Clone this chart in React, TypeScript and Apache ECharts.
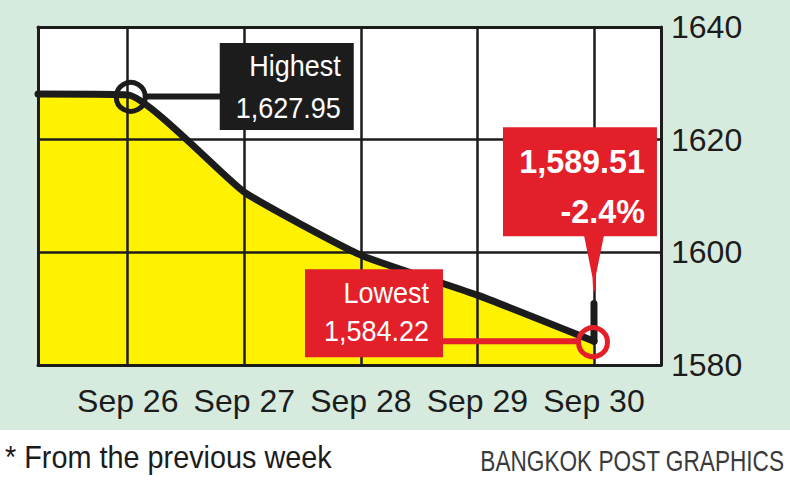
import React, { useEffect, useRef } from "react";
import * as echarts from "echarts";

// SET index, week of Sep 26 - Sep 30
const DAYS = ["Sep 26", "Sep 27", "Sep 28", "Sep 29", "Sep 30"];
const DAY_POS = [0, 1, 2, 3, 4];
const INDEX_LINE = [1627.95, 1610.7, 1599.5, 1592.4, 1584.22];
const PREV_WEEK_CLOSE = 1628.1;
const PREV_POS = -0.77;
const X_MIN = -0.77;
const X_MAX = 4.575;
const Y_TICKS = [1580, 1600, 1620, 1640];

const HIGHEST = 1627.95;
const HIGHEST_DAY = 0;
const LOWEST = 1584.22;
const LOWEST_DAY = 4;
const LAST_CLOSE = 1589.51;
const LAST_DAY = 4;
const CHANGE = "-2.4%";

const FONT = '"Liberation Sans", Arial, sans-serif';
const RED = "#e3202a";
const INK = "#1c1c1c";
const YELLOW = "#fff200";

const fmt = (v: number) =>
  v.toLocaleString("en-US", { minimumFractionDigits: 2, maximumFractionDigits: 2 });

export default function App() {
  const ref = useRef<HTMLDivElement>(null);

  useEffect(() => {
    document.body.style.margin = "0";
    if (!ref.current) return;
    const chart = echarts.init(ref.current, null, { renderer: "svg" });

    const pts: [number, number][] = [[PREV_POS, PREV_WEEK_CLOSE]].concat(
      DAY_POS.map((x, i) => [x, INDEX_LINE[i]] as [number, number])
    ) as [number, number][];

    chart.setOption({
      animation: false,
      backgroundColor: "transparent",
      grid: {
        left: 38,
        right: 129,
        top: 27,
        bottom: 119,
        show: true,
        backgroundColor: "#ffffff",
        borderWidth: 0,
        z: 0,
      },
      xAxis: [
        {
          type: "value",
          min: X_MIN,
          max: X_MAX,
          z: 2,
          splitLine: { show: false },
          axisLine: { show: true, onZero: false, lineStyle: { color: INK, width: 3 } },
          axisTick: {
            show: true,
            inside: true,
            length: 338,
            customValues: DAY_POS,
            lineStyle: { color: INK, width: 2.5 },
          },
          axisLabel: {
            customValues: DAY_POS,
            formatter: (v: number) => DAYS[Math.round(v)] ?? "",
            fontFamily: FONT,
            fontSize: 32,
            color: INK,
            margin: 20,
          },
        },
        {
          type: "value",
          position: "top",
          min: X_MIN,
          max: X_MAX,
          z: 2,
          splitLine: { show: false },
          axisLine: { show: true, onZero: false, lineStyle: { color: INK, width: 3 } },
          axisTick: { show: false },
          axisLabel: { show: false },
        },
      ],
      yAxis: [
        {
          type: "value",
          position: "right",
          min: 1580,
          max: 1640,
          interval: 20,
          z: 2,
          axisLine: { show: true, onZero: false, lineStyle: { color: INK, width: 3 } },
          axisTick: { show: false },
          splitLine: { show: true, lineStyle: { color: INK, width: 2.5 } },
          axisLabel: {
            fontFamily: FONT,
            fontSize: 32,
            color: INK,
            margin: 10,
            formatter: (v: number) => (Y_TICKS.includes(v) ? String(v) : ""),
          },
        },
        {
          type: "value",
          position: "left",
          min: 1580,
          max: 1640,
          z: 2,
          axisLine: { show: true, onZero: false, lineStyle: { color: INK, width: 3 } },
          axisTick: { show: false },
          splitLine: { show: false },
          axisLabel: { show: false },
        },
      ],
      series: [
        {
          type: "line",
          data: pts,
          z: 1,
          smooth: 0.15,
          symbol: "none",
          lineStyle: { width: 0 },
          areaStyle: { color: YELLOW, opacity: 1, origin: "start" },
        },
        {
          type: "line",
          data: pts,
          z: 3,
          smooth: 0.15,
          symbol: "none",
          lineStyle: { width: 7, color: INK, cap: "round", join: "round" },
        },
      ],
    });

    const [hx, hy] = chart.convertToPixel({ gridIndex: 0 }, [HIGHEST_DAY, HIGHEST]) as number[];
    const [lx, ly] = chart.convertToPixel({ gridIndex: 0 }, [LOWEST_DAY, LOWEST]) as number[];
    const [cx, cy] = chart.convertToPixel({ gridIndex: 0 }, [LAST_DAY, LAST_CLOSE]) as number[];

    // callout boxes
    const hiBox = { x: hx + 92, y: hy - 52, w: 134, h: 87 };
    const loBox = { x: lx - 289, y: ly - 72, w: 138, h: 88 };
    const clBox = { x: lx - 91, y: ly - 214, w: 154, h: 109 };
    const tipY = cy - 20;

    const txt = (
      x: number,
      y: number,
      text: string,
      size: number,
      sx: number,
      opts: { bold?: boolean; fill?: string; align?: string } = {}
    ) => ({
      type: "text",
      z: 20,
      x,
      y,
      scaleX: sx,
      style: {
        text,
        fill: opts.fill ?? "#ffffff",
        font: `${opts.bold ? "bold " : ""}${size}px ${FONT}`,
        align: opts.align ?? "right",
        verticalAlign: "middle",
      },
    });

    chart.setOption({
      graphic: [
        // highest marker
        {
          type: "line",
          z: 10,
          shape: { x1: hx + 17, y1: hy + 1.5, x2: hiBox.x + 2, y2: hy + 1.5 },
          style: { stroke: INK, lineWidth: 6 },
        },
        {
          type: "circle",
          z: 11,
          shape: { cx: hx + 3, cy: hy + 2, r: 14.5 },
          style: { fill: "none", stroke: INK, lineWidth: 5 },
        },
        {
          type: "rect",
          z: 12,
          shape: { x: hiBox.x, y: hiBox.y, width: hiBox.w, height: hiBox.h },
          style: { fill: INK },
        },
        txt(hiBox.x + hiBox.w - 13, hiBox.y + 23, "Highest", 30, 0.9),
        txt(hiBox.x + hiBox.w - 13, hiBox.y + 65, fmt(HIGHEST), 30, 0.9),

        // last close bar and callout
        {
          type: "line",
          z: 10,
          shape: { x1: cx, y1: ly, x2: cx, y2: cy - 8 },
          style: { stroke: INK, lineWidth: 7, lineCap: "round" },
        },
        {
          type: "polygon",
          z: 12,
          shape: {
            points: [
              [cx - 10, clBox.y + clBox.h - 1],
              [cx + 10, clBox.y + clBox.h - 1],
              [cx + 1.5, tipY - 14],
              [cx + 0.8, tipY],
              [cx - 0.8, tipY],
              [cx - 1.5, tipY - 14],
            ],
          },
          style: { fill: RED },
        },
        {
          type: "rect",
          z: 12,
          shape: { x: clBox.x, y: clBox.y, width: clBox.w, height: clBox.h },
          style: { fill: RED },
        },
        txt(clBox.x + clBox.w - 12, clBox.y + 34, fmt(LAST_CLOSE), 34, 0.95, { bold: true }),
        txt(clBox.x + clBox.w - 12, clBox.y + 84, CHANGE, 34, 0.95, { bold: true }),

        // lowest marker
        {
          type: "line",
          z: 10,
          shape: { x1: loBox.x + loBox.w - 2, y1: ly, x2: lx - 15, y2: ly },
          style: { stroke: RED, lineWidth: 6 },
        },
        {
          type: "circle",
          z: 11,
          shape: { cx: lx - 1, cy: ly + 1, r: 14.5 },
          style: { fill: "none", stroke: RED, lineWidth: 5 },
        },
        {
          type: "rect",
          z: 12,
          shape: { x: loBox.x, y: loBox.y, width: loBox.w, height: loBox.h },
          style: { fill: RED },
        },
        txt(loBox.x + loBox.w - 14, loBox.y + 23, "Lowest", 30, 0.9),
        txt(loBox.x + loBox.w - 14, loBox.y + 61, fmt(LOWEST), 30, 0.9),

        // footer
        txt(5, 457, "* From the previous week", 31, 0.93, { fill: INK, align: "left" }),
        txt(784, 461, "BANGKOK POST GRAPHICS", 29, 0.78, { fill: "#3a3a3a" }),
      ],
    });

    return () => chart.dispose();
  }, []);

  return (
    <div
      ref={ref}
      style={{
        width: 790,
        height: 484,
        background: "linear-gradient(#d6ebde 0px, #d6ebde 430px, #ffffff 430px)",
      }}
    />
  );
}
